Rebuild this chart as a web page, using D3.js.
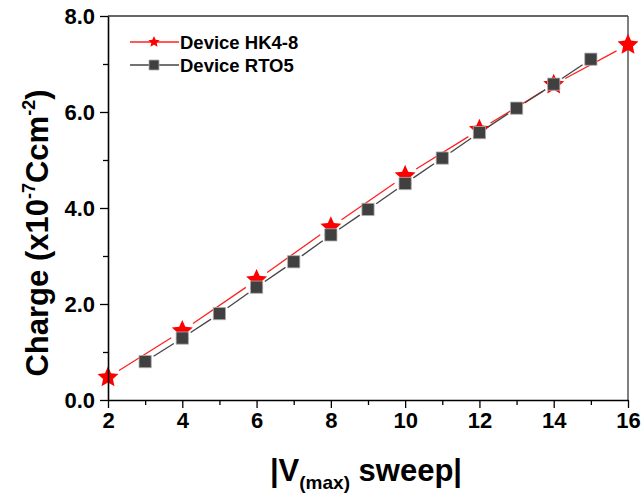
<!DOCTYPE html>
<html>
<head>
<meta charset="utf-8">
<script src="https://cdn.jsdelivr.net/npm/d3@7"></script>
<style>
  html, body { margin: 0; padding: 0; background: #fff; }
  svg { display: block; }
  text { font-family: Arial, "Liberation Sans", sans-serif; font-weight: bold; fill: #000; }
</style>
</head>
<body>
<svg id="chart" width="643" height="499"></svg>
<script>
// Charge versus |V(max) sweep| for two devices
const hkSweep = [2, 4, 6, 8, 10, 12, 14, 16];
const hkCharge = [0.47, 1.44, 2.50, 3.60, 4.67, 5.63, 6.57, 7.40];
const rtoSweep = [3, 4, 5, 6, 7, 8, 9, 10, 11, 12, 13, 14, 15];
const rtoCharge = [0.80, 1.29, 1.80, 2.35, 2.88, 3.44, 3.97, 4.51, 5.04, 5.57, 6.08, 6.58, 7.10];
const seriesNames = ["Device HK4-8", "Device RTO5"];
const xTicks = [2, 4, 6, 8, 10, 12, 14, 16];
const xMinorTicks = [3, 5, 7, 9, 11, 13, 15];
const yTicks = [0, 2, 4, 6, 8];
const yMinorTicks = [1, 3, 5, 7];

const svg = d3.select("#chart");
const plot = { left: 108, right: 628, top: 16, bottom: 400 };

const x = d3.scaleLinear().domain([2, 16]).range([plot.left, plot.right]);
const y = d3.scaleLinear().domain([0, 8]).range([plot.bottom, plot.top]);

// a plump five-pointed star symbol type; size is the outer radius squared
const fatStar = {
  draw(context, size) {
    const r = Math.sqrt(size), ri = r * 0.47;
    for (let i = 0; i < 10; i++) {
      const a = -Math.PI / 2 + i * Math.PI / 5;
      const rr = i % 2 === 0 ? r : ri;
      const px = rr * Math.cos(a), py = rr * Math.sin(a);
      if (i === 0) context.moveTo(px, py); else context.lineTo(px, py);
    }
    context.closePath();
  }
};

// frame: top and right sides
svg.append("line").attr("x1", plot.left).attr("x2", plot.right)
  .attr("y1", plot.top).attr("y2", plot.top).attr("stroke", "#333").attr("stroke-width", 1.5);
svg.append("line").attr("x1", plot.right).attr("x2", plot.right)
  .attr("y1", plot.top).attr("y2", plot.bottom).attr("stroke", "#555").attr("stroke-width", 1.5);

// segments between neighbouring points, trimmed so the line stops short of each marker
function trimmedSegments(xs, ys, gap) {
  const segs = [];
  for (let i = 0; i < xs.length - 1; i++) {
    const x1 = x(xs[i]), y1 = y(ys[i]), x2 = x(xs[i + 1]), y2 = y(ys[i + 1]);
    const dx = x2 - x1, dy = y2 - y1, len = Math.hypot(dx, dy);
    const ux = dx / len, uy = dy / len;
    segs.push([x1 + ux * gap, y1 + uy * gap, x2 - ux * gap, y2 - uy * gap]);
  }
  return segs;
}

const hkData = hkSweep.map((v, i) => ({ v, q: hkCharge[i] }));
const rtoData = rtoSweep.map((v, i) => ({ v, q: rtoCharge[i] }));

const starPath = d3.symbol(fatStar, 121)();
const squarePath = d3.symbol(d3.symbolSquare, 150)();

// HK4-8: red line and stars
svg.append("g").selectAll("line").data(trimmedSegments(hkSweep, hkCharge, 13)).join("line")
  .attr("x1", d => d[0]).attr("y1", d => d[1]).attr("x2", d => d[2]).attr("y2", d => d[3])
  .attr("stroke", "#ff2020").attr("stroke-width", 1.3);
svg.append("g").selectAll("path").data(hkData).join("path")
  .attr("d", starPath)
  .attr("transform", d => `translate(${x(d.v)},${y(d.q)})`)
  .attr("fill", "#ff0000");

// RTO5: dark line and squares
svg.append("g").selectAll("line").data(trimmedSegments(rtoSweep, rtoCharge, 10)).join("line")
  .attr("x1", d => d[0]).attr("y1", d => d[1]).attr("x2", d => d[2]).attr("y2", d => d[3])
  .attr("stroke", "#444").attr("stroke-width", 1.3);
svg.append("g").selectAll("path").data(rtoData).join("path")
  .attr("d", squarePath)
  .attr("transform", d => `translate(${x(d.v)},${y(d.q)})`)
  .attr("fill", "#404040").attr("stroke", "#b0b0b0").attr("stroke-width", 0.8);

// bottom axis
svg.append("g").attr("transform", `translate(0,${plot.bottom})`)
  .call(d3.axisBottom(x).tickValues(xTicks).tickFormat(d3.format("d")).tickSize(8).tickPadding(4).tickSizeOuter(0));
svg.append("g").attr("transform", `translate(0,${plot.bottom})`)
  .call(d3.axisBottom(x).tickValues(xMinorTicks).tickFormat("").tickSize(5).tickSizeOuter(0))
  .call(g => g.select(".domain").remove());

// left axis
svg.append("g").attr("transform", `translate(${plot.left},0)`)
  .call(d3.axisLeft(y).tickValues(yTicks).tickFormat(d3.format(".1f")).tickSize(8).tickPadding(5).tickSizeOuter(0));
svg.append("g").attr("transform", `translate(${plot.left},0)`)
  .call(d3.axisLeft(y).tickValues(yMinorTicks).tickFormat("").tickSize(5).tickSizeOuter(0))
  .call(g => g.select(".domain").remove());

svg.selectAll(".domain").attr("stroke", "#000").attr("stroke-width", 1.6);
svg.selectAll(".tick line").attr("stroke", "#000").attr("stroke-width", 1.3);
svg.selectAll(".tick text")
  .attr("font-family", "Arial, 'Liberation Sans', sans-serif")
  .attr("font-weight", "bold").attr("font-size", 22).attr("fill", "#000");

// axis titles
const xTitle = svg.append("text")
  .attr("x", 366).attr("y", 481).attr("text-anchor", "middle").attr("font-size", 31);
xTitle.append("tspan").text("|V");
xTitle.append("tspan").attr("font-size", 19).attr("dy", 8).text("(max)");
xTitle.append("tspan").attr("dy", -8).text(" sweep|");

const yTitle = svg.append("text")
  .attr("transform", "translate(48,233) rotate(-90)")
  .attr("text-anchor", "middle").attr("font-size", 31);
yTitle.append("tspan").text("Charge (x10");
yTitle.append("tspan").attr("font-size", 18).attr("dy", -13).text("-7");
yTitle.append("tspan").attr("dy", 13).text("Ccm");
yTitle.append("tspan").attr("font-size", 18).attr("dy", -13).text("-2");
yTitle.append("tspan").attr("dy", 13).text(")");

// legend
const legend = svg.append("g");
const legendRows = [
  { name: seriesNames[0], color: "#ff2020", symbol: d3.symbol(fatStar, 36)(), fill: "#ff0000", stroke: "none" },
  { name: seriesNames[1], color: "#444", symbol: d3.symbol(d3.symbolSquare, 100)(), fill: "#404040", stroke: "#b0b0b0" }
];
legendRows.forEach((r, i) => {
  const ly = 42 + i * 23;
  legend.append("line").attr("x1", 130).attr("x2", 179).attr("y1", ly).attr("y2", ly)
    .attr("stroke", r.color).attr("stroke-width", 1.3);
  legend.append("path").attr("d", r.symbol).attr("transform", `translate(154,${ly})`)
    .attr("fill", r.fill).attr("stroke", r.stroke).attr("stroke-width", 0.8);
  legend.append("text").attr("x", 180).attr("y", ly + 7).attr("font-size", 18.5).text(r.name);
});
</script>
</body>
</html>
